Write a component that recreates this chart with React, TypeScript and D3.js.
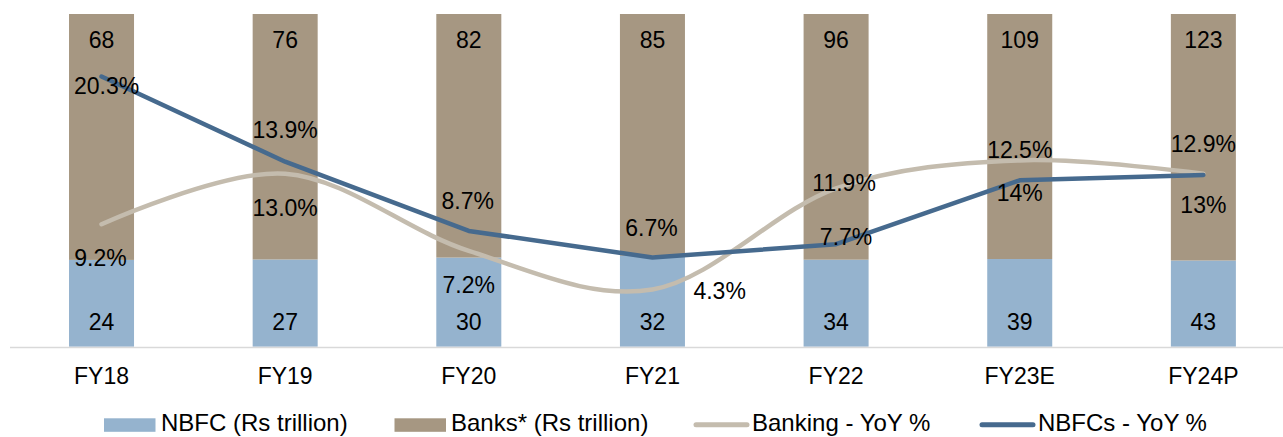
import React from 'react';
import * as d3 from 'd3';

const categories = ['FY18', 'FY19', 'FY20', 'FY21', 'FY22', 'FY23E', 'FY24P'];
const nbfcCredit = [24, 27, 30, 32, 34, 39, 43];
const bankCredit = [68, 76, 82, 85, 96, 109, 123];
const bankingYoY = [9.2, 13.0, 7.2, 4.3, 11.9, 14, 13];
const nbfcYoY = [20.3, 13.9, 8.7, 6.7, 7.7, 12.5, 12.9];
const bankingYoYLabels = ['9.2%', '13.0%', '7.2%', '4.3%', '11.9%', '14%', '13%'];
const nbfcYoYLabels = ['20.3%', '13.9%', '8.7%', '6.7%', '7.7%', '12.5%', '12.9%'];
const legendLabels = ['NBFC (Rs trillion)', 'Banks* (Rs trillion)', 'Banking - YoY %', 'NBFCs - YoY %'];

// label placement (style, not data): [dx, dy(to cap-centre), anchor]
const bankingLabelPos: [number, number, string][] = [
  [-1, 33, 'middle'], [0, 34, 'middle'], [0, 34, 'middle'], [41, 1, 'start'],
  [8, -6, 'middle'], [0, 32, 'middle'], [0, 31, 'middle'],
];
const nbfcLabelPos: [number, number, string][] = [
  [5, 9, 'middle'], [0, -32, 'middle'], [-1, -30, 'middle'], [-1, -30, 'middle'],
  [10, -8, 'middle'], [0, -31, 'middle'], [0, -31, 'middle'],
];

const COLORS = {
  nbfc: '#95b3ce',
  bank: '#a69782',
  bankLine: '#c4bcae',
  nbfcLine: '#466a8e',
};

const FONT = '"Liberation Sans", Arial, sans-serif';

export default function App() {
  const W = 1283;
  const H = 437;
  const x = d3.scalePoint<string>().domain(categories).range([9.7, 1295.2]).padding(0.5);
  const step = x.step();
  const barW = step * 0.354;
  const yTop = 14;
  const yBase = 346.7;
  const y = d3.scaleLinear().domain([0, 1]).range([yBase, yTop]);
  const y2 = d3.scaleLinear().domain([0, 25]).range([yBase, yTop]);

  const rows = categories.map((c, i) => ({ cat: c, nbfc: nbfcCredit[i], bank: bankCredit[i] }));
  const stacked = d3.stack<any>().keys(['nbfc', 'bank']).offset(d3.stackOffsetExpand)(rows);

  const bankLine = d3
    .line<number>()
    .x((_, i) => x(categories[i]) as number)
    .y((d) => y2(d))
    .curve(d3.curveCardinal.tension(0))(bankingYoY) as string;
  const nbfcLine = d3
    .line<number>()
    .x((_, i) => x(categories[i]) as number)
    .y((d) => y2(d))
    .curve(d3.curveLinear)(nbfcYoY) as string;

  const fs = 23;
  const capOff = fs * 0.36; // baseline offset from cap centre

  const legendItems = [
    { type: 'rect', color: COLORS.nbfc, x: 104, tx: 161 },
    { type: 'rect', color: COLORS.bank, x: 394.5, tx: 451 },
    { type: 'line', color: COLORS.bankLine, x: 694, tx: 752 },
    { type: 'line', color: COLORS.nbfcLine, x: 980, tx: 1038 },
  ];
  const legY = 431.3; // text baseline (keeps descenders inside the picture)

  return (
    <svg
      width={W}
      height={H}
      style={{ position: 'absolute', left: 0, top: 0, background: '#fff' }}
      fontFamily={FONT}
    >
      <rect x={0} y={0} width={W} height={H} fill="#fff" />
      {stacked.map((layer) => (
        <g key={layer.key} fill={layer.key === 'nbfc' ? COLORS.nbfc : COLORS.bank}>
          {layer.map((d, i) => (
            <rect
              key={i}
              x={(x(categories[i]) as number) - barW / 2}
              y={y(d[1])}
              width={barW}
              height={y(d[0]) - y(d[1])}
            />
          ))}
        </g>
      ))}
      <line x1={10} x2={W} y1={347.6} y2={347.6} stroke="#d9d9d9" strokeWidth={1.5} />
      {categories.map((c, i) => (
        <g key={c} fontSize={fs} textAnchor="middle" fill="#000">
          <text x={x(c)} y={40 + capOff}>{bankCredit[i]}</text>
          <text x={x(c)} y={322 + capOff}>{nbfcCredit[i]}</text>
          <text x={x(c)} y={375.5 + capOff}>{c}</text>
        </g>
      ))}
      <path d={bankLine} fill="none" stroke={COLORS.bankLine} strokeWidth={4.5} strokeLinecap="round" strokeLinejoin="round" />
      <path d={nbfcLine} fill="none" stroke={COLORS.nbfcLine} strokeWidth={4.5} strokeLinecap="round" strokeLinejoin="round" />
      {categories.map((c, i) => {
        const px = x(c) as number;
        const [bdx, bdy, ba] = bankingLabelPos[i];
        const [ndx, ndy, na] = nbfcLabelPos[i];
        return (
          <g key={'l' + c} fontSize={fs} fill="#000">
            <text x={px + bdx} y={y2(bankingYoY[i]) + bdy + capOff} textAnchor={ba}>
              {bankingYoYLabels[i]}
            </text>
            <text x={px + ndx} y={y2(nbfcYoY[i]) + ndy + capOff} textAnchor={na}>
              {nbfcYoYLabels[i]}
            </text>
          </g>
        );
      })}
      {legendItems.map((it, i) => (
        <g key={'lg' + i}>
          {it.type === 'rect' ? (
            <rect x={it.x} y={legY - 13} width={51.5} height={13.5} fill={it.color} />
          ) : (
            <line x1={it.x + 2} x2={it.x + 53} y1={legY - 6.5} y2={legY - 6.5} stroke={it.color} strokeWidth={5} strokeLinecap="round" />
          )}
          <text x={it.tx} y={legY} fontSize={24} fill="#000">
            {legendLabels[i]}
          </text>
        </g>
      ))}
    </svg>
  );
}
